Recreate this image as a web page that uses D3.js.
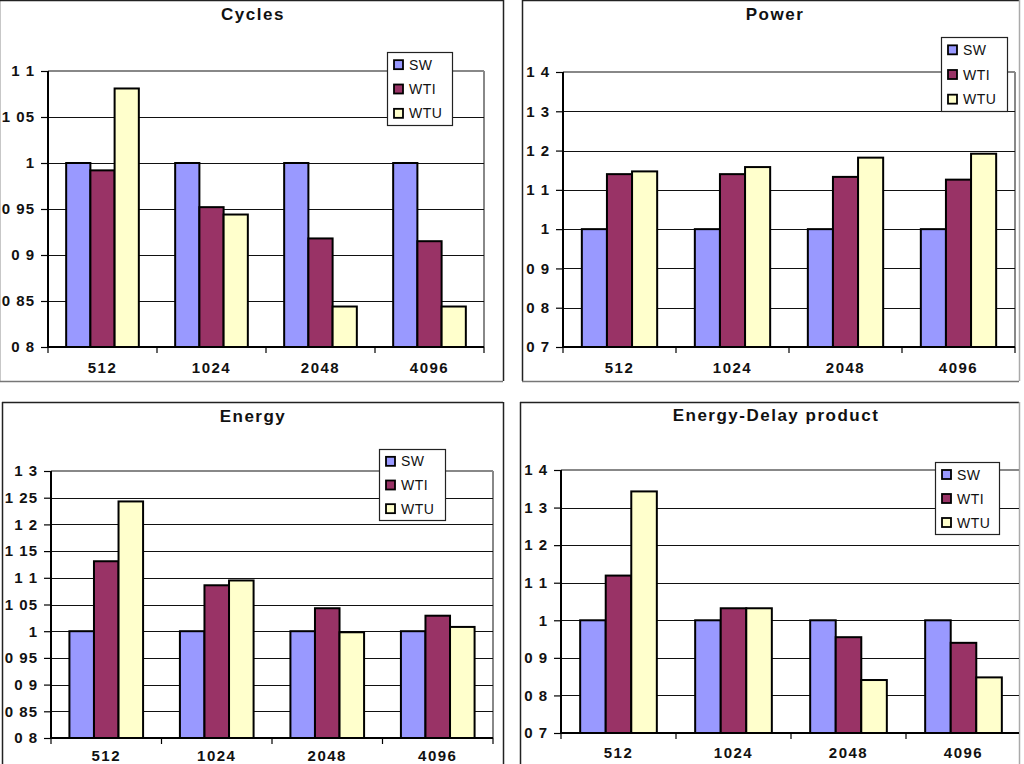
<!DOCTYPE html>
<html>
<head>
<meta charset="utf-8">
<script src="https://cdn.jsdelivr.net/npm/d3@7"></script>
<style>
  html, body { margin: 0; padding: 0; background: #fff; }
  svg { display: block; font-family: "Liberation Sans", Arial, sans-serif; }
</style>
</head>
<body>
<svg id="chart" width="1024" height="764"></svg>
<script>
// ---- data ----
const categories = ["512", "1024", "2048", "4096"];
const seriesNames = ["SW", "WTI", "WTU"];
const seriesColors = ["#9999FF", "#993366", "#FFFFCC"];

const cyclesSW  = [1, 1, 1, 1];
const cyclesWTI = [0.992, 0.952, 0.918, 0.915];
const cyclesWTU = [1.081, 0.944, 0.844, 0.844];

const powerSW  = [1, 1, 1, 1];
const powerWTI = [1.140, 1.140, 1.133, 1.126];
const powerWTU = [1.147, 1.158, 1.182, 1.192];

const energySW  = [1, 1, 1, 1];
const energyWTI = [1.131, 1.086, 1.043, 1.029];
const energyWTU = [1.243, 1.095, 0.998, 1.008];

const edpSW  = [1, 1, 1, 1];
const edpWTI = [1.119, 1.032, 0.955, 0.940];
const edpWTU = [1.343, 1.032, 0.841, 0.848];

const ticksFine = [0.8, 0.85, 0.9, 0.95, 1, 1.05, 1.1];
const ticksFineLabels = ["0 8", "0 85", "0 9", "0 95", "1", "1 05", "1 1"];
const ticksEnergy = [0.8, 0.85, 0.9, 0.95, 1, 1.05, 1.1, 1.15, 1.2, 1.25, 1.3];
const ticksEnergyLabels = ["0 8", "0 85", "0 9", "0 95", "1", "1 05", "1 1", "1 15", "1 2", "1 25", "1 3"];
const ticksCoarse = [0.7, 0.8, 0.9, 1, 1.1, 1.2, 1.3, 1.4];
const ticksCoarseLabels = ["0 7", "0 8", "0 9", "1", "1 1", "1 2", "1 3", "1 4"];

const titles = ["Cycles", "Power", "Energy", "Energy-Delay product"];

// ---- layout ----
const panels = [
  { title: titles[0], series: [cyclesSW, cyclesWTI, cyclesWTU], ticks: ticksFine, labels: ticksFineLabels,
    border: [-1, 0, 503, 381], bottomGray: true, titleXY: [253, 20],
    plot: [48, 71, 484, 347], legend: [387, 52, 65, 73], xLabelDy: 26 },
  { title: titles[1], series: [powerSW, powerWTI, powerWTU], ticks: ticksCoarse, labels: ticksCoarseLabels,
    border: [522, 0, 1019, 381], bottomGray: true, titleXY: [775, 20],
    plot: [563, 72, 1015, 347], legend: [941, 37, 66, 74], xLabelDy: 26 },
  { title: titles[2], series: [energySW, energyWTI, energyWTU], ticks: ticksEnergy, labels: ticksEnergyLabels,
    border: [2, 402, 503, 800], titleXY: [253, 422],
    plot: [51, 471, 493, 738], legend: [379, 449, 66, 71], xLabelDy: 23 },
  { title: titles[3], series: [edpSW, edpWTI, edpWTU], ticks: ticksCoarse, labels: ticksCoarseLabels,
    border: [520, 402, 1019, 800], titleXY: [776, 421],
    plot: [561, 470, 1021, 733], legend: [935, 462, 64, 72], xLabelDy: 25 }
];

const svg = d3.select("#chart");

panels.forEach(p => {
  const g = svg.append("g");
  const [bx0, by0, bx1, by1] = p.border;
  // panel frame
  g.append("line").attr("x1", bx0).attr("x2", bx1).attr("y1", by0 + 0.5).attr("y2", by0 + 0.5)
    .attr("stroke", "#222").attr("stroke-width", 1.5);
  g.append("line").attr("x1", bx0 + 0.5).attr("x2", bx0 + 0.5).attr("y1", by0).attr("y2", by1)
    .attr("stroke", "#222").attr("stroke-width", 1.5);
  g.append("line").attr("x1", bx1 + 0.5).attr("x2", bx1 + 0.5).attr("y1", by0).attr("y2", by1)
    .attr("stroke", bx1 > 1010 ? "#aaa" : "#222").attr("stroke-width", 1.5);
  if (p.bottomGray) {
    g.append("line").attr("x1", bx0).attr("x2", bx1).attr("y1", by1 + 0.5).attr("y2", by1 + 0.5)
      .attr("stroke", "#777").attr("stroke-width", 1.5);
  }

  const [px0, py0, px1, py1] = p.plot;
  const clipR = Math.min(px1, bx1);
  const y = d3.scaleLinear().domain([p.ticks[0], p.ticks[p.ticks.length - 1]]).range([py1, py0]);
  const x = d3.scaleBand().domain(categories).range([px0, px1]).paddingInner(1 / 3).paddingOuter(1 / 6);
  const xs = d3.scaleBand().domain(seriesNames).range([0, x.bandwidth()]);

  // plot area border (top/right gray)
  g.append("line").attr("x1", px0).attr("x2", clipR).attr("y1", py0).attr("y2", py0)
    .attr("stroke", "#888").attr("stroke-width", 2);
  if (px1 <= bx1) {
    g.append("line").attr("x1", px1).attr("x2", px1).attr("y1", py0).attr("y2", py1)
      .attr("stroke", "#888").attr("stroke-width", 2);
  }
  // gridlines
  g.append("g").selectAll("line").data(p.ticks.slice(1, -1)).join("line")
    .attr("x1", px0).attr("x2", clipR)
    .attr("y1", d => Math.round(y(d)) + 0.5).attr("y2", d => Math.round(y(d)) + 0.5)
    .attr("stroke", "#111").attr("stroke-width", 1.2);

  // bars
  const groups = g.append("g").selectAll("g").data(categories).join("g")
    .attr("transform", d => `translate(${x(d)},0)`);
  groups.selectAll("rect").data((c, ci) => seriesNames.map((s, si) => ({ s, si, v: p.series[si][ci] })))
    .join("rect")
    .attr("x", d => xs(d.s))
    .attr("width", xs.bandwidth())
    .attr("y", d => y(d.v))
    .attr("height", d => y(p.ticks[0]) - y(d.v))
    .attr("fill", d => seriesColors[d.si])
    .attr("stroke", "#000").attr("stroke-width", 2);

  // y axis
  const yAxis = d3.axisLeft(y).tickValues(p.ticks).tickSize(7).tickPadding(6)
    .tickFormat((d, i) => p.labels[i]);
  const ya = g.append("g").attr("transform", `translate(${px0},0)`).call(yAxis);
  ya.select(".domain").attr("stroke", "#000").attr("stroke-width", 2).attr("d", `M0,${py0}V${py1}`);
  ya.selectAll(".tick line").attr("stroke", "#000").attr("stroke-width", 1.2);
  ya.selectAll(".tick text").attr("font-size", 15).attr("font-weight", "bold")
    .attr("letter-spacing", "1px").attr("fill", "#111")
    .attr("font-family", "'Liberation Sans', Arial, sans-serif");

  // x axis: category boundary ticks
  const xa = g.append("g").attr("transform", `translate(0,${py1})`);
  xa.append("line").attr("x1", px0).attr("x2", clipR).attr("y1", 0).attr("y2", 0)
    .attr("stroke", "#000").attr("stroke-width", 2);
  const bounds = categories.map(c => x(c) - x.step() * x.paddingInner() / 2).concat([px1]);
  xa.selectAll("line.tk").data(bounds.filter(b => b <= bx1)).join("line").attr("class", "tk")
    .attr("x1", d => d).attr("x2", d => d).attr("y1", 0).attr("y2", 6)
    .attr("stroke", "#000").attr("stroke-width", 1.2);
  xa.selectAll("text").data(categories).join("text")
    .attr("x", d => x(d) + x.bandwidth() / 2)
    .attr("y", p.xLabelDy)
    .attr("text-anchor", "middle")
    .attr("font-size", 15).attr("font-weight", "bold").attr("letter-spacing", "1.5px")
    .attr("fill", "#111")
    .text(d => d);

  // title
  g.append("text").attr("x", p.titleXY[0]).attr("y", p.titleXY[1])
    .attr("text-anchor", "middle").attr("font-size", 17).attr("font-weight", "bold")
    .attr("letter-spacing", "1.5px").attr("fill", "#111").text(p.title);

  // legend
  const [lx, ly, lw, lh] = p.legend;
  const lg = g.append("g");
  lg.append("rect").attr("x", lx + 0.5).attr("y", ly + 0.5).attr("width", lw).attr("height", lh)
    .attr("fill", "#fff").attr("stroke", "#222").attr("stroke-width", 1.2);
  const step = lh / 3;
  seriesNames.forEach((s, i) => {
    const cy = ly + step * (i + 0.5) + 0.5;
    lg.append("rect").attr("x", lx + 7).attr("y", cy - 4.5).attr("width", 9).attr("height", 9)
      .attr("fill", seriesColors[i]).attr("stroke", "#000").attr("stroke-width", 1.8);
    lg.append("text").attr("x", lx + 22).attr("y", cy).attr("dy", "0.36em")
      .attr("font-size", 14).attr("letter-spacing", "0.5px").attr("fill", "#111").text(s);
  });
});
</script>
</body>
</html>
